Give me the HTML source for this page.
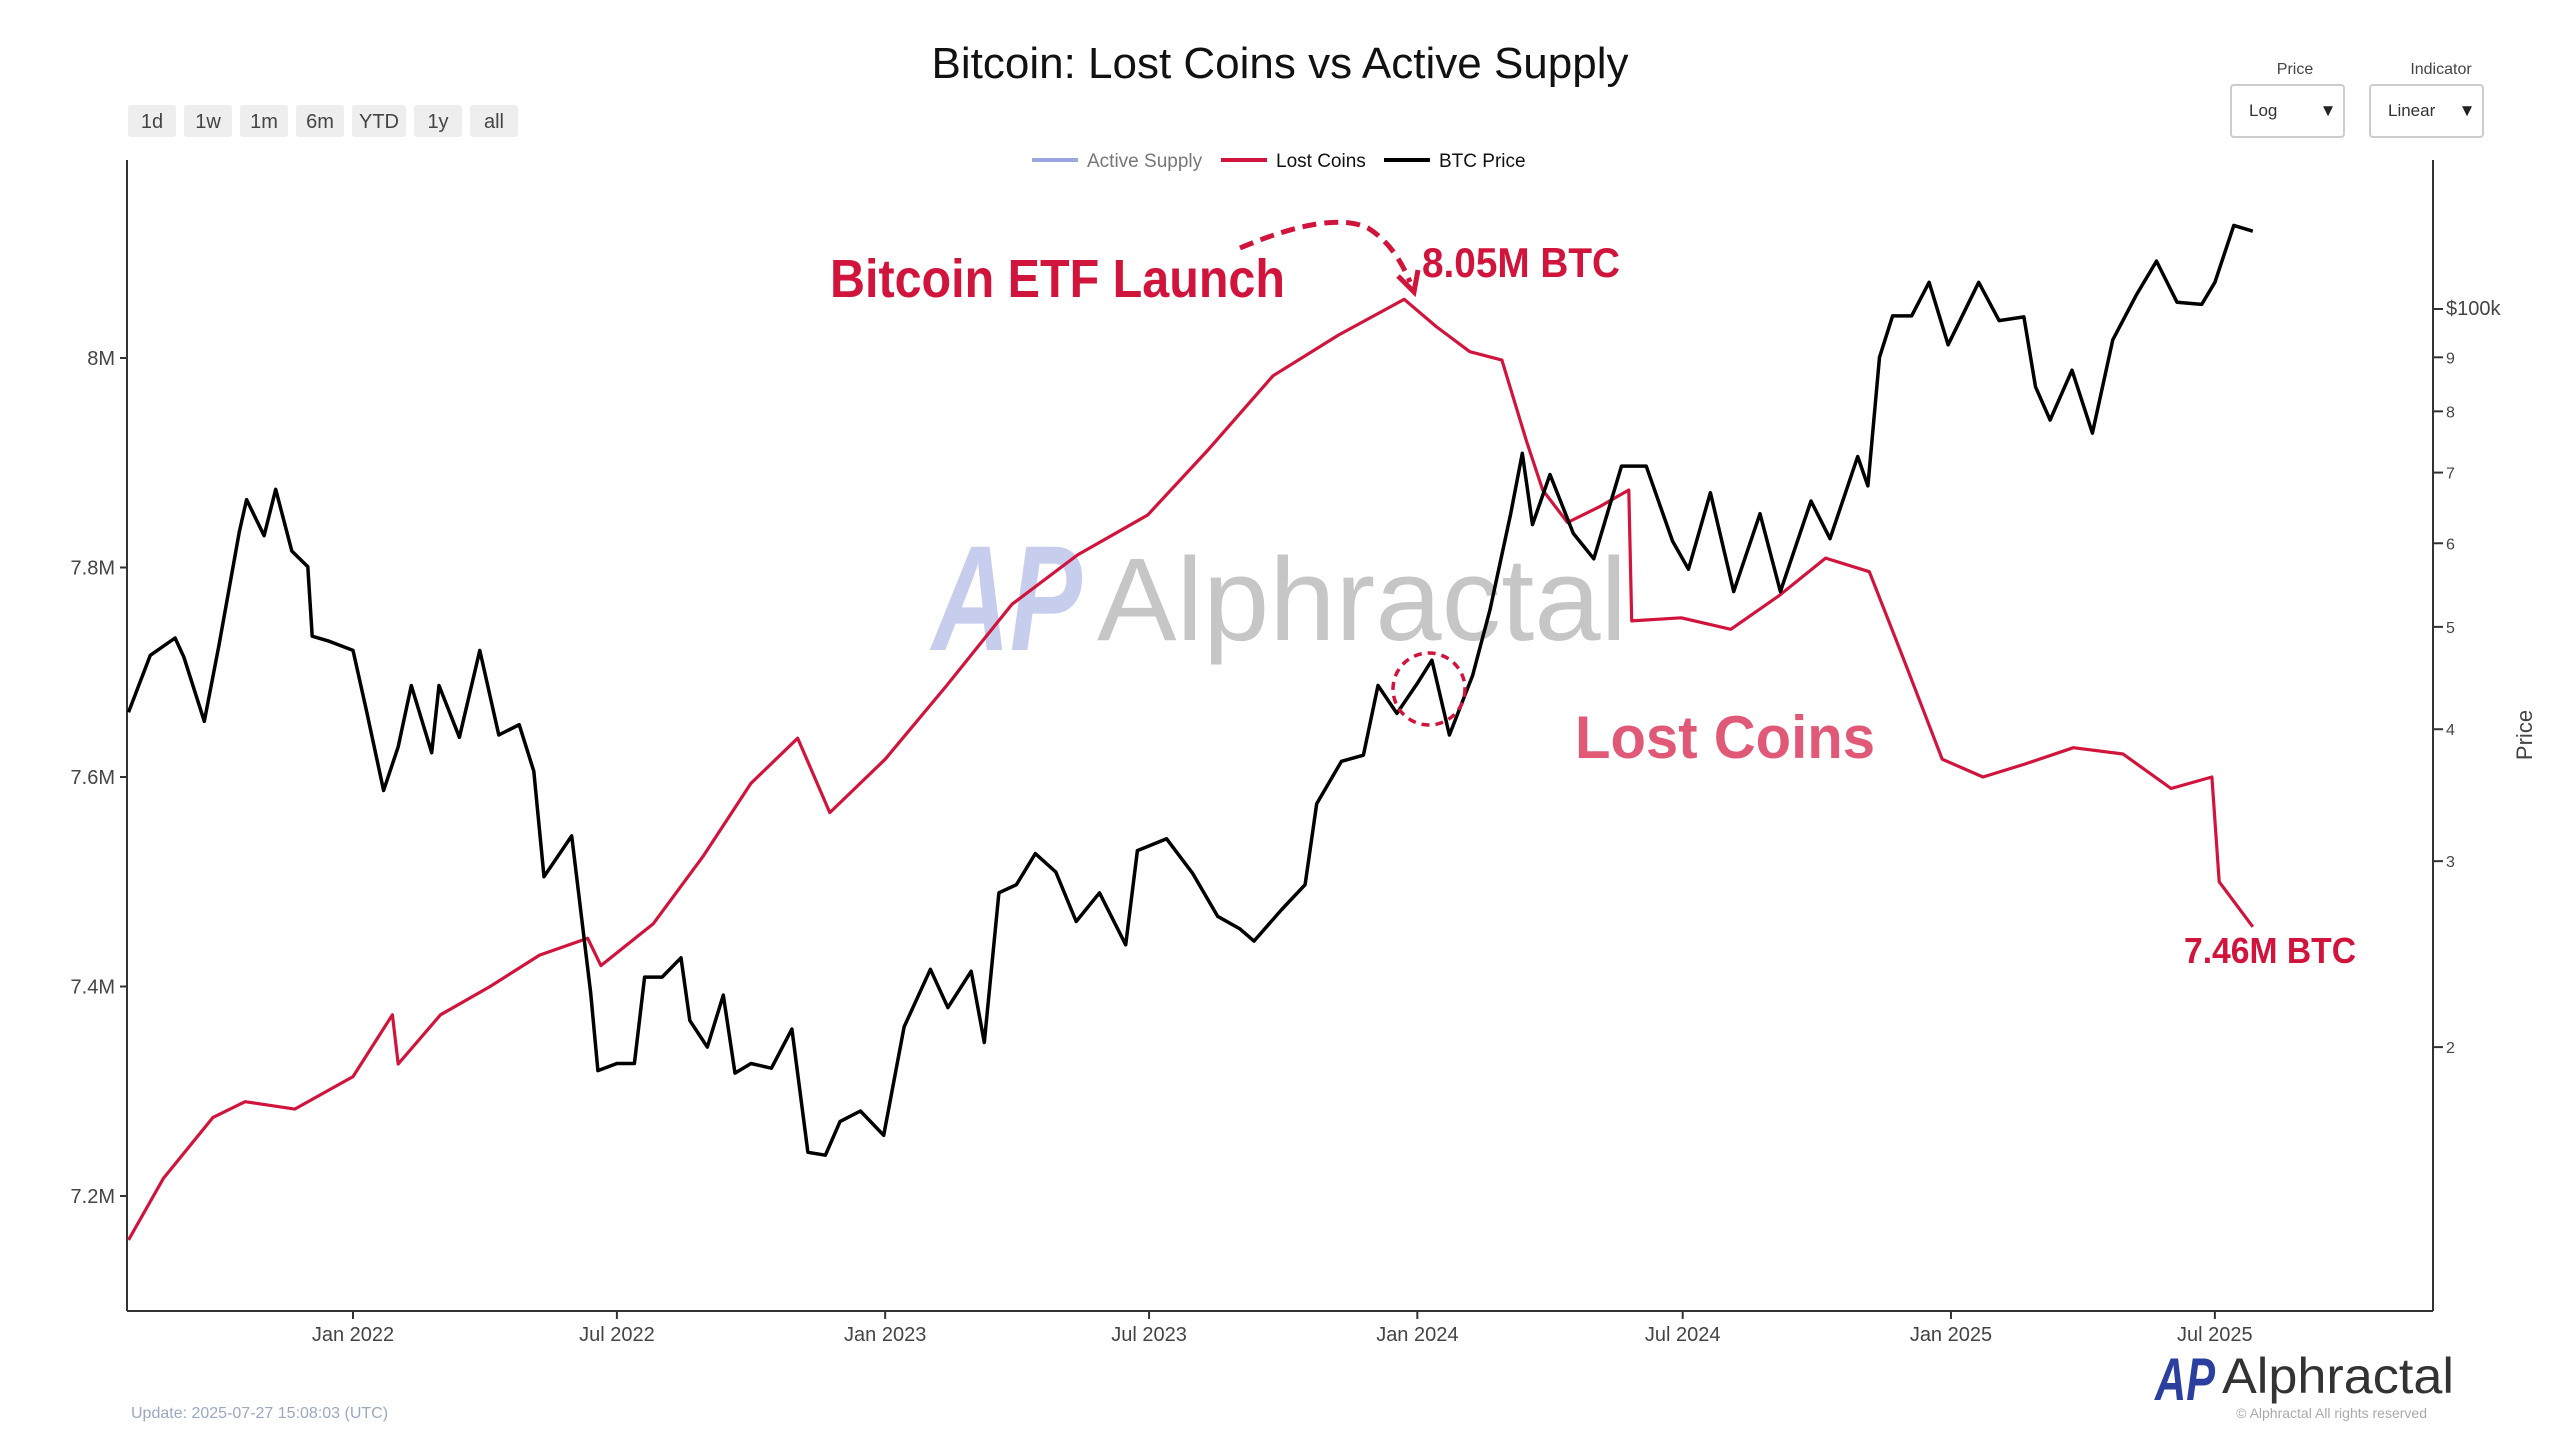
<!DOCTYPE html>
<html><head><meta charset="utf-8"><style>
html,body{margin:0;padding:0;background:#fff;width:2560px;height:1440px;overflow:hidden}
svg{display:block;font-family:"Liberation Sans",sans-serif}
</style></head><body>
<svg id="chart" width="2560" height="1440" viewBox="0 0 2560 1440" xmlns="http://www.w3.org/2000/svg">
<text x="1280" y="78" text-anchor="middle" font-size="44" fill="#111">Bitcoin: Lost Coins vs Active Supply</text>
<g font-size="20" fill="#444" text-anchor="middle">
<g><rect x="128" y="105" width="48" height="32" rx="3" fill="#eee"/><text x="152" y="128">1d</text></g>
<g><rect x="184" y="105" width="48" height="32" rx="3" fill="#eee"/><text x="208" y="128">1w</text></g>
<g><rect x="240" y="105" width="48" height="32" rx="3" fill="#eee"/><text x="264" y="128">1m</text></g>
<g><rect x="296" y="105" width="48" height="32" rx="3" fill="#eee"/><text x="320" y="128">6m</text></g>
<g><rect x="352" y="105" width="54" height="32" rx="3" fill="#eee"/><text x="379" y="128">YTD</text></g>
<g><rect x="414" y="105" width="48" height="32" rx="3" fill="#eee"/><text x="438" y="128">1y</text></g>
<g><rect x="470" y="105" width="48" height="32" rx="3" fill="#eee"/><text x="494" y="128">all</text></g>
</g>
<g>
<text x="2295" y="74" font-size="16" fill="#444" text-anchor="middle">Price</text>
<rect x="2231" y="85" width="113" height="52" rx="3" fill="#fff" stroke="#ccc" stroke-width="2"/>
<text x="2249" y="116" font-size="17" fill="#333">Log</text><text x="2328" y="116" font-size="17" fill="#222" text-anchor="middle">▼</text>
</g>
<g>
<text x="2441" y="74" font-size="16" fill="#444" text-anchor="middle">Indicator</text>
<rect x="2370" y="85" width="113" height="52" rx="3" fill="#fff" stroke="#ccc" stroke-width="2"/>
<text x="2388" y="116" font-size="17" fill="#333">Linear</text><text x="2467" y="116" font-size="17" fill="#222" text-anchor="middle">▼</text>
</g>
<g font-size="19">
<g><line x1="1032" y1="160" x2="1078" y2="160" stroke="#9aa6e0" stroke-width="4"/><text x="1087" y="167" fill="#777">Active Supply</text></g>
<g><line x1="1221" y1="160" x2="1267" y2="160" stroke="#d0143c" stroke-width="4"/><text x="1276" y="167" fill="#111">Lost Coins</text></g>
<g><line x1="1384" y1="160" x2="1430" y2="160" stroke="#000" stroke-width="4"/><text x="1439" y="167" fill="#111">BTC Price</text></g>
</g>
<g opacity="0.55">
<text x="932" y="650" font-size="150" font-weight="bold" fill="#9aa6e0" font-style="italic" textLength="150" lengthAdjust="spacingAndGlyphs">AP</text>
<text x="1097" y="640" font-size="118" fill="#999" textLength="530" lengthAdjust="spacingAndGlyphs">Alphractal</text>
</g>
<g id="axes"></g>
<g id="series"></g>
<g>
<text x="830" y="297" font-size="54" font-weight="bold" fill="#d0143c" textLength="455" lengthAdjust="spacingAndGlyphs">Bitcoin ETF Launch</text>
<text x="1422" y="277" font-size="42" font-weight="bold" fill="#d0143c" textLength="198" lengthAdjust="spacingAndGlyphs">8.05M BTC</text>
<path d="M1240 248 Q1330 210 1368 228 Q1395 245 1410 282" fill="none" stroke="#d0143c" stroke-width="5" stroke-dasharray="14 8"/>
<path d="M1398 276 L1414 292 L1418 270" fill="none" stroke="#d0143c" stroke-width="5"/>
<text x="1575" y="758" font-size="60" font-weight="bold" fill="#e05a78" textLength="300" lengthAdjust="spacingAndGlyphs">Lost Coins</text>
<text x="2184" y="963" font-size="36" font-weight="bold" fill="#d0143c" textLength="172" lengthAdjust="spacingAndGlyphs">7.46M BTC</text>
<circle cx="1429" cy="689" r="36" fill="none" stroke="#d0143c" stroke-width="3.5" stroke-dasharray="8 6"/>
</g>
<g>
<text x="2155" y="1400" font-size="60" font-weight="bold" font-style="italic" fill="#2a3f9e" textLength="60" lengthAdjust="spacingAndGlyphs">AP</text>
<text x="2222" y="1393" font-size="50" fill="#333" textLength="232" lengthAdjust="spacingAndGlyphs">Alphractal</text>
<text x="2427" y="1418" font-size="14" fill="#aaa" text-anchor="end">© Alphractal All rights reserved</text>
</g>
<text x="131" y="1418" font-size="16" fill="#9aa8c0">Update: 2025-07-27 15:08:03 (UTC)</text>
</svg>
<script>
const lostDates=["2021-07-31","2021-08-24","2021-09-27","2021-10-19","2021-11-22","2022-01-01","2022-01-28","2022-02-01","2022-03-02","2022-04-05","2022-05-09","2022-06-11","2022-06-20","2022-07-26","2022-08-29","2022-10-01","2022-11-02","2022-11-24","2023-01-01","2023-02-12","2023-03-29","2023-05-13","2023-06-30","2023-08-11","2023-09-24","2023-11-08","2023-12-23","2024-01-14","2024-02-06","2024-02-28","2024-03-16","2024-03-27","2024-04-13","2024-05-05","2024-05-25","2024-05-27","2024-06-30","2024-08-03","2024-09-05","2024-10-07","2024-11-06","2024-11-28","2024-12-26","2025-01-23","2025-02-20","2025-03-26","2025-04-29","2025-06-01","2025-06-29","2025-07-04","2025-07-27"];
const lostValues=[7.158,7.217,7.275,7.29,7.283,7.314,7.373,7.326,7.373,7.40,7.43,7.446,7.42,7.46,7.524,7.594,7.637,7.566,7.617,7.687,7.765,7.812,7.85,7.913,7.983,8.022,8.056,8.03,8.006,7.998,7.92,7.874,7.843,7.858,7.874,7.749,7.752,7.741,7.773,7.809,7.796,7.718,7.617,7.60,7.612,7.628,7.622,7.589,7.60,7.50,7.457];
const btcDates=["2021-07-31","2021-08-15","2021-09-01","2021-09-07","2021-09-21","2021-10-01","2021-10-15","2021-10-20","2021-11-01","2021-11-09","2021-11-20","2021-12-01","2021-12-04","2021-12-15","2022-01-01","2022-01-10","2022-01-22","2022-02-01","2022-02-10","2022-02-24","2022-03-01","2022-03-15","2022-03-29","2022-04-11","2022-04-25","2022-05-05","2022-05-12","2022-05-31","2022-06-13","2022-06-18","2022-07-01","2022-07-13","2022-07-20","2022-08-01","2022-08-14","2022-08-20","2022-09-01","2022-09-12","2022-09-20","2022-10-01","2022-10-15","2022-10-29","2022-11-09","2022-11-21","2022-12-01","2022-12-15","2022-12-31","2023-01-14","2023-02-01","2023-02-13","2023-03-01","2023-03-10","2023-03-20","2023-04-01","2023-04-14","2023-04-28","2023-05-12","2023-05-28","2023-06-15","2023-06-23","2023-07-13","2023-07-31","2023-08-17","2023-09-01","2023-09-11","2023-09-30","2023-10-16","2023-10-24","2023-11-10","2023-11-25","2023-12-05","2023-12-18","2024-01-01","2024-01-11","2024-01-23","2024-02-08","2024-02-20","2024-03-05","2024-03-13","2024-03-20","2024-04-01","2024-04-17","2024-05-01","2024-05-20","2024-06-06","2024-06-24","2024-07-05","2024-07-20","2024-08-05","2024-08-23","2024-09-06","2024-09-27","2024-10-10","2024-10-29","2024-11-05","2024-11-13","2024-11-22","2024-12-05","2024-12-17","2024-12-30","2025-01-20","2025-02-03","2025-02-20","2025-02-28","2025-03-10","2025-03-25","2025-04-08","2025-04-22","2025-05-08","2025-05-22","2025-06-05","2025-06-22","2025-07-01","2025-07-14","2025-07-27"];
const btcValues=[41.5,47,48.8,46.8,40.7,48,61.5,66,61,67.5,59,57,49,48.5,47.5,41.8,35,38.5,44,38,44,39.3,47.5,39.5,40.4,36.5,29,31.7,22.5,19,19.3,19.3,23.3,23.3,24.3,21.2,20,22.4,18.9,19.3,19.1,20.8,15.9,15.8,17,17.4,16.5,20.9,23.7,21.8,23.6,20.2,28,28.5,30.5,29.3,26.3,28,25,30.7,31.5,29.2,26.6,25.9,25.2,27,28.5,34,37.3,37.8,44,41.4,44.2,46.5,39.5,45,52,64,73,62.5,69.7,61.3,58,71,71,60.3,56.7,67,54,64,54,65.8,60.6,72.5,68,90,98.5,98.5,106,92.5,106,97.5,98.3,84.4,78.5,87.5,76.3,93.5,103,111,101.5,101,106,120,118.5];
const leftTicks=[7.2,7.4,7.6,7.8,8];
const leftTickLabels=["7.2M","7.4M","7.6M","7.8M","8M"];
const rightTicks=[20,30,40,50,60,70,80,90,100];
const rightTickLabels=["2","3","4","5","6","7","8","9","$100k"];
const xTickDates=["2022-01-01","2022-07-01","2023-01-01","2023-07-01","2024-01-01","2024-07-01","2025-01-01","2025-07-01"];
const xTickLabels=["Jan 2022","Jul 2022","Jan 2023","Jul 2023","Jan 2024","Jul 2024","Jan 2025","Jul 2025"];

const L=127,R=2433,T=160,B=1311;
const D0=Date.UTC(2022,0,1), DAY=86400000;
function xScale(d){return 353+((Date.parse(d+"T00:00:00Z")-D0)/DAY)*1.458;}
function yLeft(v){return 358+(8-v)*1047.5;}
function yRight(v){return 309+(2-Math.log10(v))*1056;}
const NS="http://www.w3.org/2000/svg";
function mk(tag,attrs,parent){const e=document.createElementNS(NS,tag);for(const k in attrs)e.setAttribute(k,attrs[k]);parent.appendChild(e);return e;}
const axes=document.getElementById('axes'), series=document.getElementById('series');
let a=mk('line',{x1:L,y1:T,x2:L,y2:B,stroke:'#333','stroke-width':2},axes);


a=mk('line',{x1:R,y1:T,x2:R,y2:B,stroke:'#333','stroke-width':2},axes);


a=mk('line',{x1:L,y1:B,x2:R,y2:B,stroke:'#333','stroke-width':2},axes);


leftTicks.forEach((v,i)=>{const y=yLeft(v);
 mk('line',{x1:L-7,y1:y,x2:L,y2:y,stroke:'#333','stroke-width':2},axes);
 const t=mk('text',{x:L-12,y:y+7,'font-size':20,fill:'#444','text-anchor':'end'},axes);t.textContent=leftTickLabels[i];
 
 });
rightTicks.forEach((v,i)=>{const y=yRight(v);
 mk('line',{x1:R,y1:y,x2:R+10,y2:y,stroke:'#333','stroke-width':2},axes);
 const t=mk('text',{x:R+13,y:y+6,'font-size':i==8?20:16,fill:'#444'},axes);t.textContent=rightTickLabels[i];
 
 });
xTickDates.forEach((d,i)=>{const x=xScale(d);
 mk('line',{x1:x,y1:B,x2:x,y2:B+8,stroke:'#333','stroke-width':2},axes);
 const t=mk('text',{x:x,y:B+30,'font-size':20,fill:'#444','text-anchor':'middle'},axes);t.textContent=xTickLabels[i];
 
 });
const pt=mk('text',{x:2532,y:735,'font-size':22,fill:'#444','text-anchor':'middle',transform:'rotate(-90 2532 735)'},axes);pt.textContent='Price';


const lp=mk('path',{d:lostDates.map((d,i)=>(i?'L':'M')+xScale(d).toFixed(1)+' '+yLeft(lostValues[i]).toFixed(1)).join(' '),fill:'none',stroke:'#d0143c','stroke-width':3.2,'stroke-linejoin':'round'},series);


const bp=mk('path',{d:btcDates.map((d,i)=>(i?'L':'M')+xScale(d).toFixed(1)+' '+yRight(btcValues[i]).toFixed(1)).join(' '),fill:'none',stroke:'#000','stroke-width':3.5,'stroke-linejoin':'round'},series);


</script>
</body></html>
